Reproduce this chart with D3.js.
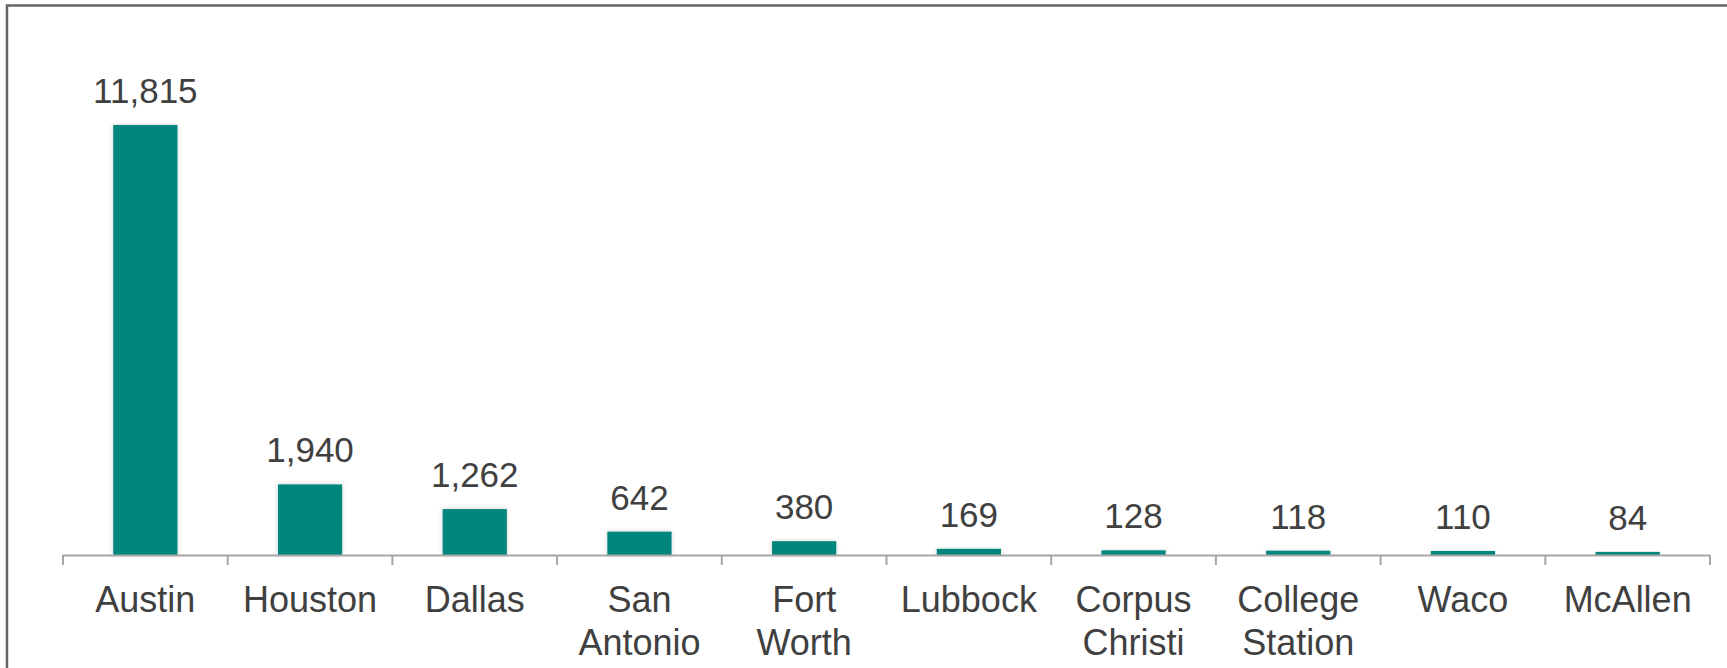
<!DOCTYPE html>
<html>
<head>
<meta charset="utf-8">
<script src="https://cdn.jsdelivr.net/npm/d3@7/dist/d3.min.js"></script>
<style>
  html, body { margin: 0; padding: 0; background: #fff; }
  svg { display: block; }
  text { font-family: "Liberation Sans", Arial, Helvetica, sans-serif; fill: #404040; }
</style>
</head>
<body>
<svg id="chart" width="1727" height="668"></svg>
<script>
// City names (each entry is the lines of its axis label)
const cities = [
  ["Austin"], ["Houston"], ["Dallas"], ["San", "Antonio"], ["Fort", "Worth"],
  ["Lubbock"], ["Corpus", "Christi"], ["College", "Station"], ["Waco"], ["McAllen"]
];
const counts = [11815, 1940, 1262, 642, 380, 169, 128, 118, 110, 84];

const W = 1727, H = 668;
const left = 63, right = 1710, baseY = 555, topY = 125;

const svg = d3.select("#chart");

// outer frame (right and bottom edges fall outside the view)
svg.append("rect")
  .attr("x", 7).attr("y", 5.5)
  .attr("width", W + 20).attr("height", H + 20)
  .attr("fill", "none").attr("stroke", "#666").attr("stroke-width", 2.5);

const defs = svg.append("defs");
const f = defs.append("filter").attr("id", "barShadow")
  .attr("x", "-20%").attr("y", "-20%").attr("width", "140%").attr("height", "140%");
f.append("feDropShadow").attr("dx", 0).attr("dy", 0).attr("stdDeviation", 2.5)
  .attr("flood-color", "#000").attr("flood-opacity", 0.18);

const keys = cities.map(c => c.join(" "));
const x = d3.scaleBand().domain(keys).range([left, right])
  .paddingInner(0.61).paddingOuter(0.305);
const y = d3.scaleLinear().domain([0, counts[0]]).range([baseY, topY]);

const data = keys.map((k, i) => ({ key: k, lines: cities[i], value: counts[i] }));

// bars
svg.append("g").selectAll("rect").data(data).join("rect")
  .attr("x", d => x(d.key))
  .attr("y", d => y(d.value))
  .attr("width", x.bandwidth())
  .attr("height", d => baseY - y(d.value))
  .attr("fill", "#00867D")
  .attr("filter", "url(#barShadow)");

// category axis: baseline and tick marks at band boundaries
const axis = svg.append("g");
axis.append("line")
  .attr("x1", left).attr("x2", right).attr("y1", baseY + 0.5).attr("y2", baseY + 0.5)
  .attr("stroke", "#a6a6a6").attr("stroke-width", 2);
const step = x.step();
axis.selectAll("line.tick").data(d3.range(keys.length + 1)).join("line")
  .attr("class", "tick")
  .attr("x1", i => left + i * step).attr("x2", i => left + i * step)
  .attr("y1", baseY).attr("y2", baseY + 10)
  .attr("stroke", "#a6a6a6").attr("stroke-width", 2);

// category labels
const cat = svg.append("g").selectAll("text").data(data).join("text")
  .attr("text-anchor", "middle")
  .attr("font-size", 36)
  .attr("x", d => x(d.key) + x.bandwidth() / 2)
  .attr("y", 612);
cat.selectAll("tspan").data(d => d.lines.map(l => ({ l, d }))).join("tspan")
  .attr("x", t => x(t.d.key) + x.bandwidth() / 2)
  .attr("dy", (t, i) => i === 0 ? 0 : 43)
  .text(t => t.l);

// value labels
svg.append("g").selectAll("text").data(data).join("text")
  .attr("text-anchor", "middle")
  .attr("font-size", 35)
  .attr("x", d => x(d.key) + x.bandwidth() / 2)
  .attr("y", d => y(d.value) - 22)
  .text(d => d3.format(",")(d.value));
</script>
</body>
</html>
